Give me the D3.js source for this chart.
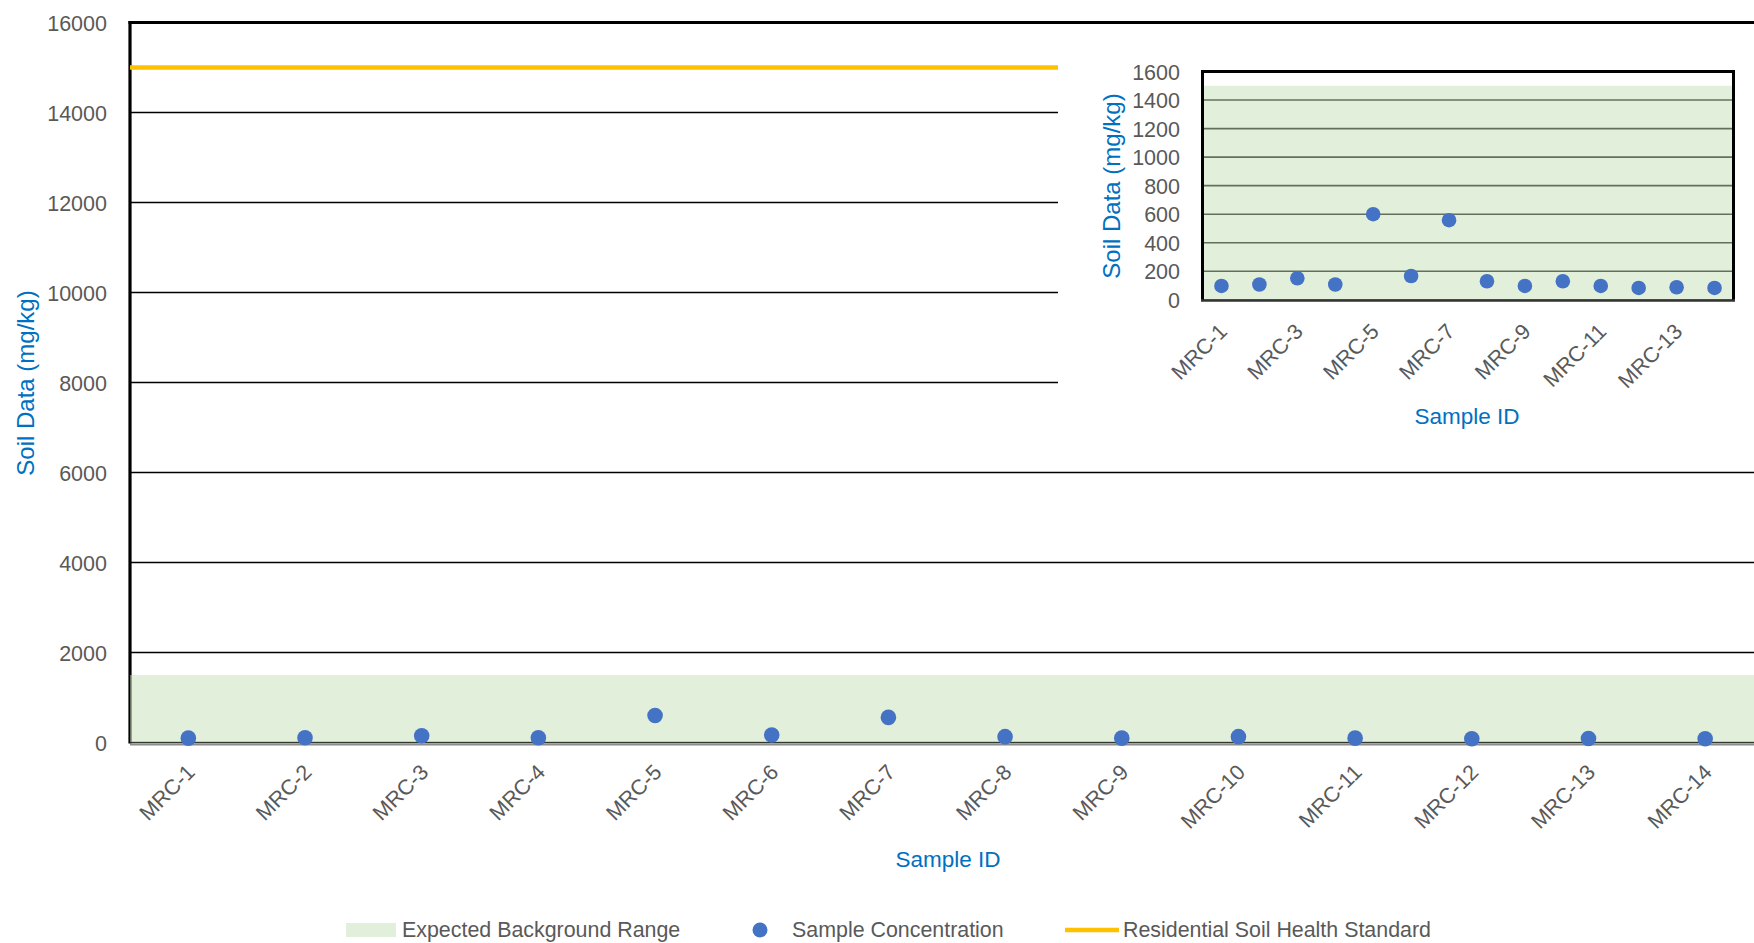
<!DOCTYPE html>
<html>
<head>
<meta charset="utf-8">
<script src="https://cdn.jsdelivr.net/npm/d3@7/dist/d3.min.js"></script>
<style>
  html, body { margin: 0; padding: 0; background: #ffffff; }
  svg { display: block; }
  text { font-family: "Liberation Sans", Arial, sans-serif; }
</style>
</head>
<body>
<svg id="chart" width="1754" height="943"></svg>
<script>
// ---------------- DATA ----------------
const categories = ["MRC-1","MRC-2","MRC-3","MRC-4","MRC-5","MRC-6","MRC-7",
                    "MRC-8","MRC-9","MRC-10","MRC-11","MRC-12","MRC-13","MRC-14"];
const concentrations = [97, 107, 151, 107, 600, 167, 558, 130, 97, 130, 97, 83, 88, 83];
const backgroundRange = [0, 1500];      // expected background range (mg/kg)
const healthStandard = 15000;           // residential soil health standard (mg/kg)
const mainTicks = [0, 2000, 4000, 6000, 8000, 10000, 12000, 14000, 16000];
const insetTicks = [0, 200, 400, 600, 800, 1000, 1200, 1400, 1600];
const insetLabelCats = ["MRC-1","MRC-3","MRC-5","MRC-7","MRC-9","MRC-11","MRC-13"];
const legendLabels = ["Expected Background Range", "Sample Concentration", "Residential Soil Health Standard"];

// ---------------- STYLE ----------------
const GREEN = "#C5DFB5", GREEN_OP = 0.5, LEG_GREEN = "#E2EFDA";
const BLUE = "#4472C4", GOLD = "#FFC000", TITLE = "#0070C0", TICK = "#595959";

const svg = d3.select("#chart");

// ---------------- MAIN CHART ----------------
const x = d3.scaleBand().domain(categories).range([130, 1763.5]);
const y = d3.scaleLinear().domain([0, 16000]).range([742.5, 22.5]);
const main = svg.append("g");

// gridlines
main.append("g").selectAll("line").data(mainTicks.filter(d => d < 16000)).join("line")
  .attr("x1", x.range()[0]).attr("x2", x.range()[1])
  .attr("y1", d => y(d)).attr("y2", d => y(d))
  .attr("stroke", "#000").attr("stroke-width", 1.6);

// left axis line & top border
main.append("line").attr("x1", 130).attr("x2", 130).attr("y1", y(16000) - 1.5).attr("y2", y(0) + 1)
  .attr("stroke", "#000").attr("stroke-width", 3.2);
main.append("line").attr("x1", 128.5).attr("x2", 1754).attr("y1", y(16000)).attr("y2", y(16000))
  .attr("stroke", "#000").attr("stroke-width", 3.2);

// background range band
main.append("rect")
  .attr("x", x.range()[0]).attr("width", x.range()[1] - x.range()[0])
  .attr("y", y(backgroundRange[1])).attr("height", y(backgroundRange[0]) - y(backgroundRange[1]))
  .attr("fill", GREEN).attr("fill-opacity", GREEN_OP);

// x axis baseline (gray)
main.append("line").attr("x1", 130).attr("x2", 1754).attr("y1", y(0) + 2).attr("y2", y(0) + 2)
  .attr("stroke", "#8c8c8c").attr("stroke-width", 2);

// residential standard line
main.append("line")
  .attr("x1", x.range()[0]).attr("x2", x.range()[1])
  .attr("y1", y(healthStandard)).attr("y2", y(healthStandard))
  .attr("stroke", GOLD).attr("stroke-width", 4.5);

// y axis ticks (labels only)
const yAxis = d3.axisLeft(y).tickValues(mainTicks).tickSize(0).tickPadding(0).tickFormat(d3.format("d"));
const yg = main.append("g").attr("transform", "translate(107,0)").call(yAxis);
yg.select(".domain").remove();
yg.selectAll("text").attr("fill", TICK).style("font-size", "21.5px").attr("dy", "0.35em").attr("x", 0);

// x labels
const xAxis = d3.axisBottom(x).tickSize(0).tickPadding(0);
const xg = main.append("g").attr("transform", `translate(0,${y(0)})`).call(xAxis);
xg.select(".domain").remove();
xg.selectAll(".tick text")
  .attr("fill", TICK).style("font-size", "21.5px")
  .attr("text-anchor", "end").attr("dy", 0).attr("y", 0)
  .attr("transform", "translate(8,31) rotate(-45)");

// points
main.append("g").selectAll("circle").data(categories).join("circle")
  .attr("cx", d => x(d) + x.bandwidth() / 2)
  .attr("cy", (d, i) => y(concentrations[i]))
  .attr("r", 7.8).attr("fill", BLUE);

// axis titles
main.append("text").attr("x", 948).attr("y", 859).attr("text-anchor", "middle")
  .attr("dominant-baseline", "central").attr("fill", TITLE).style("font-size", "22.5px").text("Sample ID");
main.append("text").attr("transform", "translate(25,383) rotate(-90)").attr("text-anchor", "middle")
  .attr("dominant-baseline", "central").attr("fill", TITLE).style("font-size", "24px").text("Soil Data (mg/kg)");

// ---------------- INSET CHART ----------------
const inset = svg.append("g");
inset.append("rect").attr("x", 1058).attr("y", 26).attr("width", 700).attr("height", 430).attr("fill", "#fff");

const x2 = d3.scaleBand().domain(categories).range([1202.5, 1733.5]);
const y2 = d3.scaleLinear().domain([0, 1600]).range([299.8, 71.5]);

inset.append("g").selectAll("line").data(insetTicks.filter(d => d < 1600)).join("line")
  .attr("x1", x2.range()[0]).attr("x2", x2.range()[1])
  .attr("y1", d => y2(d)).attr("y2", d => y2(d))
  .attr("stroke", "#000").attr("stroke-width", 1.6);

inset.append("rect")
  .attr("x", x2.range()[0]).attr("width", x2.range()[1] - x2.range()[0])
  .attr("y", y2(backgroundRange[1])).attr("height", y2(backgroundRange[0]) - y2(backgroundRange[1]))
  .attr("fill", GREEN).attr("fill-opacity", GREEN_OP);

// border
inset.append("path")
  .attr("d", `M${x2.range()[0]},${y2(0)} L${x2.range()[0]},${y2(1600)} L${x2.range()[1]},${y2(1600)} L${x2.range()[1]},${y2(0)}`)
  .attr("fill", "none").attr("stroke", "#000").attr("stroke-width", 3);
inset.append("line").attr("x1", x2.range()[0] - 1.5).attr("x2", x2.range()[1] + 1.5)
  .attr("y1", y2(0) + 1).attr("y2", y2(0) + 1).attr("stroke", "#333").attr("stroke-width", 2);

const y2Axis = d3.axisLeft(y2).tickValues(insetTicks).tickSize(0).tickPadding(0).tickFormat(d3.format("d"));
const y2g = inset.append("g").attr("transform", "translate(1180,0)").call(y2Axis);
y2g.select(".domain").remove();
y2g.selectAll("text").attr("fill", TICK).style("font-size", "21.5px").attr("dy", "0.35em").attr("x", 0);

const x2Axis = d3.axisBottom(x2).tickValues(insetLabelCats).tickSize(0).tickPadding(0);
const x2g = inset.append("g").attr("transform", `translate(0,${y2(0)})`).call(x2Axis);
x2g.select(".domain").remove();
x2g.selectAll(".tick text")
  .attr("fill", TICK).style("font-size", "21.5px")
  .attr("text-anchor", "end").attr("dy", 0).attr("y", 0)
  .attr("transform", "translate(7,33) rotate(-45)");

inset.append("g").selectAll("circle").data(categories).join("circle")
  .attr("cx", d => x2(d) + x2.bandwidth() / 2)
  .attr("cy", (d, i) => y2(concentrations[i]))
  .attr("r", 7.3).attr("fill", BLUE);

inset.append("text").attr("x", 1467).attr("y", 416).attr("text-anchor", "middle")
  .attr("dominant-baseline", "central").attr("fill", TITLE).style("font-size", "22.5px").text("Sample ID");
inset.append("text").attr("transform", "translate(1111,186) rotate(-90)").attr("text-anchor", "middle")
  .attr("dominant-baseline", "central").attr("fill", TITLE).style("font-size", "24px").text("Soil Data (mg/kg)");

// ---------------- LEGEND ----------------
const leg = svg.append("g");
const ly = 930;
leg.append("rect").attr("x", 346).attr("y", ly - 7).attr("width", 50).attr("height", 14).attr("fill", LEG_GREEN);
leg.append("circle").attr("cx", 760).attr("cy", ly).attr("r", 7.5).attr("fill", BLUE);
leg.append("line").attr("x1", 1065).attr("x2", 1119).attr("y1", ly).attr("y2", ly)
  .attr("stroke", GOLD).attr("stroke-width", 4.5);
const legX = [402, 792, 1123];
leg.selectAll("text.leg").data(legendLabels).join("text").attr("class", "leg")
  .attr("x", (d, i) => legX[i]).attr("y", ly).attr("dominant-baseline", "central")
  .attr("fill", TICK).style("font-size", "21.4px").text(d => d);
</script>
</body>
</html>
